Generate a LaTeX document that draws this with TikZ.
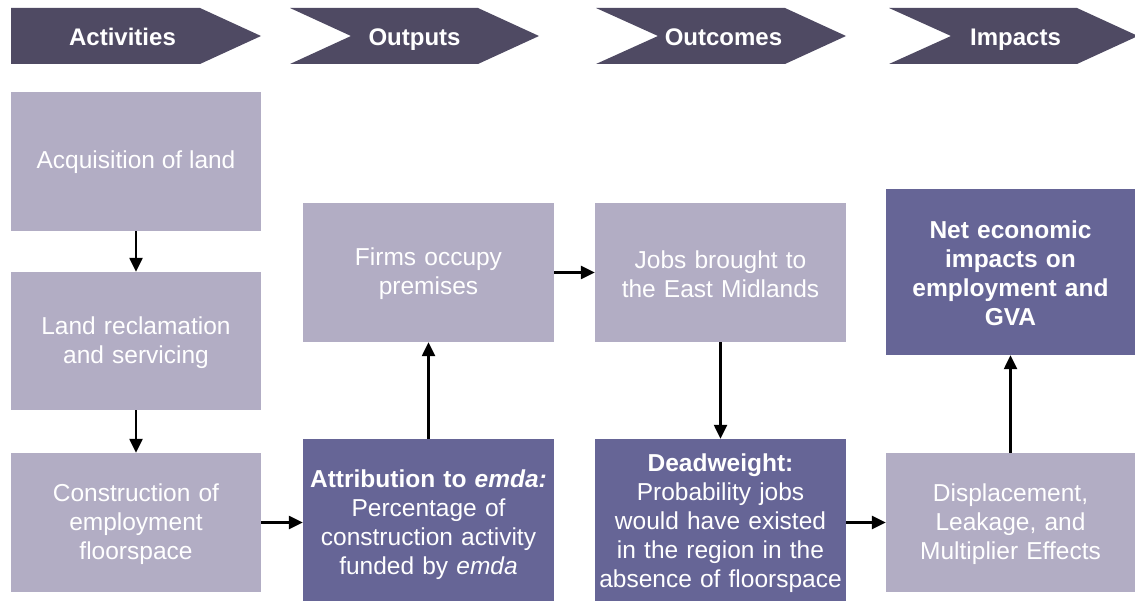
\documentclass[tikz,border=0pt]{standalone}
\usepackage{fontspec}
\setmainfont{Liberation Sans}
\usetikzlibrary{arrows.meta}
\definecolor{bannerc}{HTML}{4F4A63}
\definecolor{lightc}{HTML}{B2ADC4}
\definecolor{darkc}{HTML}{666596}
\tikzset{
  box/.style={rectangle, inner sep=0pt, text=white, align=center,
    font=\fontsize{24.5}{29}\selectfont},
  lightbox/.style={box, fill=lightc},
  darkbox/.style={box, fill=darkc},
  banner/.style={fill=bannerc},
  bannertext/.style={text=white, font=\fontsize{24}{28}\selectfont\bfseries, inner sep=0pt, anchor=base},
  conn/.style={line width=2.4pt, -{Triangle[length=14pt,width=13pt]}}
}
\begin{document}
\begin{tikzpicture}[x=1pt, y=-1pt]
\path[use as bounding box] (0,0) rectangle (1135,601);
% banners
\fill[banner] (11,8) -- (200,8) -- (261,36) -- (200,64) -- (11,64) -- cycle;
\fill[banner] (290,8) -- (478,8) -- (539,36) -- (478,64) -- (290,64) -- (351,36) -- cycle;
\fill[banner] (596,8) -- (785,8) -- (846,36) -- (785,64) -- (596,64) -- (658,36) -- cycle;
\fill[banner] (889,8) -- (1077,8) -- (1138,36) -- (1077,64) -- (889,64) -- (951,36) -- cycle;
\node[bannertext] (hact) at (122.5,45.5) {Activities};
\node[bannertext] (hout) at (414.5,45.5) {Outputs};
\node[bannertext] (hocm) at (723.5,45.5) {Outcomes};
\node[bannertext] (himp) at (1015.5,45.5) {Impacts};
% boxes
\node[lightbox, minimum width=250pt, minimum height=139pt] (acq) at (136,161.5) {};
\node[box] (acqt) at (136,162.5) {Acquisition of land};
\node[lightbox, minimum width=250pt, minimum height=138pt] (rec) at (136,341) {};
\node[box, text width=250pt] (rect) at (136,343) {Land reclamation\\and servicing};
\node[lightbox, minimum width=250pt, minimum height=139pt] (con) at (136,522.5) {};
\node[box, text width=250pt] (cont) at (136,524.5) {Construction of\\employment\\floorspace};
\node[lightbox, minimum width=251pt, minimum height=139pt] (firm) at (428.5,272.5) {};
\node[box, text width=251pt] (firmt) at (428.5,274) {Firms occupy\\premises};
\node[darkbox, minimum width=251pt, minimum height=162pt] (att) at (428.5,520) {};
\node[box, text width=251pt] (attt) at (428.5,525) {\textbf{Attribution to \textit{emda:}}\\Percentage of\\construction activity\\funded by \textit{emda}};
\node[lightbox, minimum width=251pt, minimum height=139pt] (jobs) at (720.5,272.5) {};
\node[box, text width=251pt] (jobst) at (720.5,274) {Jobs brought to\\the East Midlands};
\node[darkbox, minimum width=251pt, minimum height=162pt] (dead) at (720.5,520) {};
\node[box, text width=251pt] (deadt) at (720.5,523.5) {\textbf{Deadweight:}\\Probability jobs\\would have existed\\in the region in the\\absence of floorspace};
\node[darkbox, minimum width=249pt, minimum height=166pt] (net) at (1010.5,272) {};
\node[box, text width=249pt, font=\fontsize{24.5}{29}\selectfont\bfseries] (nett) at (1010.5,273.5) {Net economic\\impacts on\\employment and\\GVA};
\node[lightbox, minimum width=249pt, minimum height=139pt] (disp) at (1010.5,522.5) {};
\node[box, text width=249pt] (dispt) at (1010.5,524.5) {Displacement,\\Leakage, and\\Multiplier Effects};
% connectors
\draw[conn] (acq.south) -- (rec.north);
\draw[conn] (rec.south) -- (con.north);
\draw[conn] (con.east) -- (att.west |- con.east);
\draw[conn] (att.north) -- (firm.south);
\draw[conn] (firm.east) -- (jobs.west);
\draw[conn] (jobs.south) -- (dead.north);
\draw[conn] (dead.east |- disp.west) -- (disp.west);
\draw[conn] (disp.north) -- (net.south);
\end{tikzpicture}
\end{document}
